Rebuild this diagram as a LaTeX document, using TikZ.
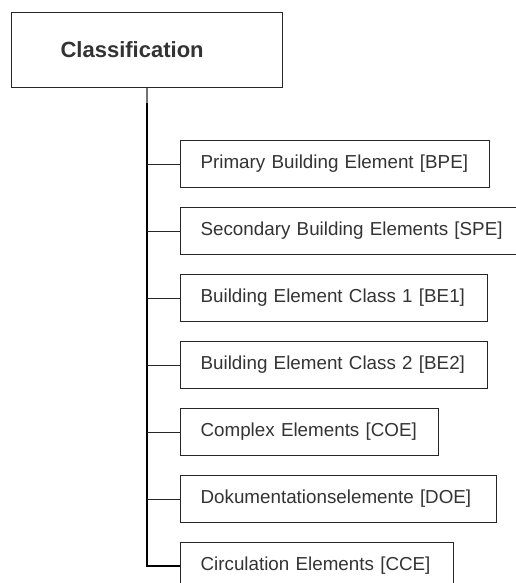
\documentclass[tikz,border=0pt]{standalone}
\usepackage{fontspec}
\setmainfont{Liberation Sans}
\begin{document}
\begin{tikzpicture}[x=1pt,y=-1pt,
  box/.style={draw=black!85, line width=1.2pt, anchor=north west, inner ysep=0pt,
    align=left, text=black!80},
  rootbox/.style={box, minimum height=75pt, inner xsep=49pt,
    font=\fontsize{22}{26}\selectfont\bfseries},
  leafbox/.style={box, minimum height=47pt, inner xsep=20pt,
    font=\fontsize{18.8}{23}\selectfont},
  branch/.style={draw=black!85, line width=1.2pt}]
\useasboundingbox (0,0) rectangle (516,583);
\clip (0,0) rectangle (516,583);

% root of the tree
\node[rootbox, text width=173pt] (cls) at (11,12) {\mbox{Classification}};

% leaves, one row every 67pt
\node[leafbox, text width=269pt] (bpe) at (180,140) {\mbox{Primary Building Element [BPE]}};
\node[leafbox, text width=296pt] (spe) at (180,207) {\mbox{Secondary Building Elements [SPE]}};
\node[leafbox, text width=267pt] (be1) at (180,274) {\mbox{Building Element Class 1 [BE1]}};
\node[leafbox, text width=267pt] (be2) at (180,341) {\mbox{Building Element Class 2 [BE2]}};
\node[leafbox, text width=218pt] (coe) at (180,408) {\mbox{Complex Elements [COE]}};
\node[leafbox, text width=276pt] (doe) at (180,475) {\mbox{Dokumentationselemente [DOE]}};
\node[leafbox, text width=233pt] (cce) at (180,542) {\mbox{Circulation Elements [CCE]}};

% trunk
\coordinate (t) at (147,103);
\draw[black!55, line width=1.2pt] (cls.south -| t) -- (t);
\draw[black, line width=2pt] (t) -- (cce.west -| t) -- (cce.west);

% branches to the leaves
\foreach \n in {bpe,spe,be1,be2,coe,doe}
  \draw[branch] (\n.west -| t) -- (\n.west);
\end{tikzpicture}
\end{document}
